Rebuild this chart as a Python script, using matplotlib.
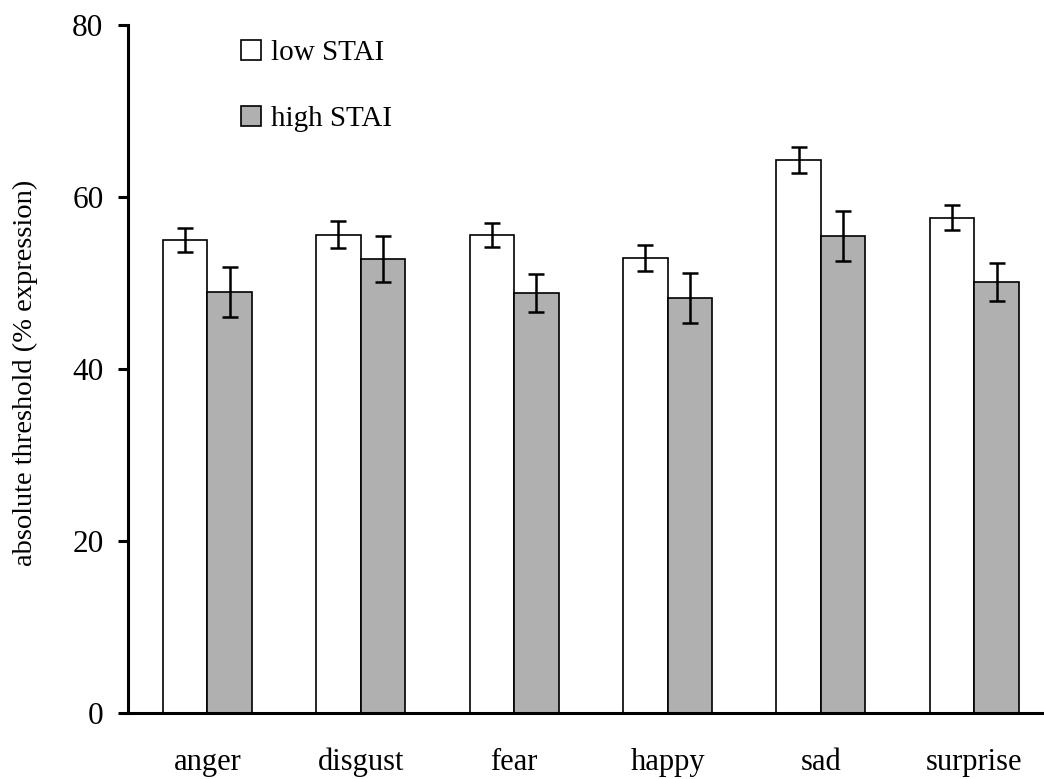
import numpy as np
import matplotlib
matplotlib.use('Agg')
import matplotlib.pyplot as plt
from matplotlib.patches import Patch

plt.rcParams['font.family'] = ['Liberation Serif', 'DejaVu Serif']

# absolute threshold per emotion, mean and SE
emotions = ['anger', 'disgust', 'fear', 'happy', 'sad', 'surprise']
low_stai = [55.0, 55.6, 55.6, 52.9, 64.3, 57.6]
low_err = [1.4, 1.55, 1.4, 1.5, 1.5, 1.5]
high_stai = [48.9, 52.8, 48.8, 48.3, 55.5, 50.1]
high_err = [2.9, 2.65, 2.2, 2.9, 2.9, 2.2]

W = 0.29
GREY = '#b0b0b0'

fig = plt.figure(figsize=(10.44, 7.79), dpi=100)
ax = fig.add_axes([0.1226, 0.0847, 0.8774, 0.8833])

x = np.arange(len(emotions))
err_kw = dict(ecolor='black', elinewidth=1.8, capsize=5.8, capthick=1.8)
ax.bar(x - W / 2, low_stai, W, yerr=low_err, color='white', edgecolor='black',
       linewidth=1.2, error_kw=err_kw, zorder=2)
ax.bar(x + W / 2, high_stai, W, yerr=high_err, color=GREY, edgecolor='black',
       linewidth=1.2, error_kw=err_kw, zorder=2)

ax.set_xlim(-0.517, 5.454)
ax.set_ylim(0, 80)
ax.set_yticks([0, 20, 40, 60, 80])
ax.set_xticks(x)
ax.set_xticklabels(emotions, fontsize=22)
ax.tick_params(axis='x', length=0, pad=25)
ax.tick_params(axis='y', direction='out', length=7.2, width=2.2, pad=10.5, labelsize=22.5)

for s in ['top', 'right']:
    ax.spines[s].set_visible(False)
for s in ['left', 'bottom']:
    ax.spines[s].set_linewidth(2.2)
ax.spines['bottom'].set_zorder(3)

ax.set_ylabel('absolute threshold (% expression)', fontsize=20.5)
ax.yaxis.set_label_coords(-0.098, 0.494)

handles = [Patch(facecolor='white', edgecolor='black', linewidth=1.2, label='low STAI'),
           Patch(facecolor=GREY, edgecolor='black', linewidth=1.2, label='high STAI')]
ax.legend(handles=handles, loc='upper left', bbox_to_anchor=(0.123, 0.978),
          frameon=False, fontsize=21, handlelength=0.7, handleheight=0.7,
          handletextpad=0.35, labelspacing=1.35, borderpad=0, borderaxespad=0)

fig.savefig('out.png', dpi=100)
